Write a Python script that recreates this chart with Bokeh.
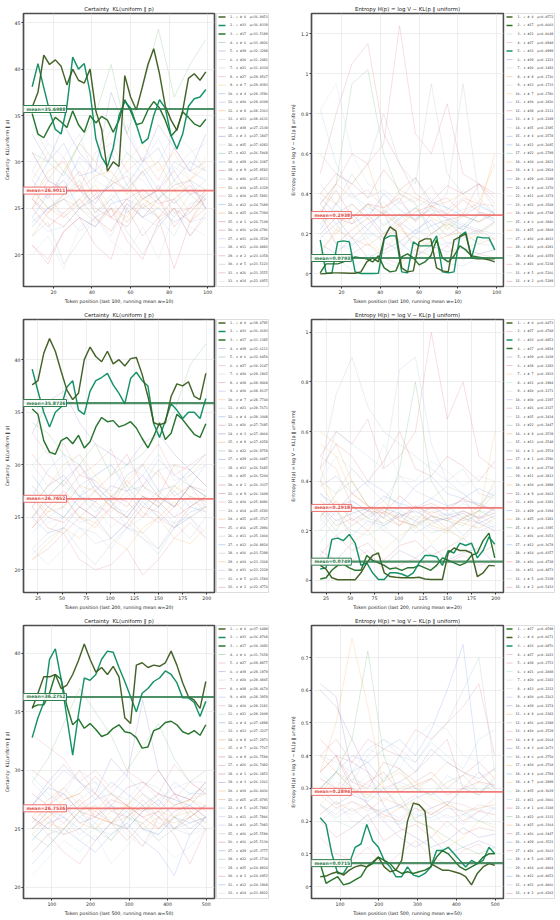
import numpy as np
from bokeh.plotting import figure
from bokeh.layouts import gridplot
from bokeh.models import Range1d, Span, Label
from bokeh.core.properties import value
from bokeh.embed import file_html
from bokeh.resources import INLINE

FONT = "DejaVu Sans"
MONO = "DejaVu Sans Mono"
CHECKED = (0, 17, 33)

HL_COLOR = {0: "#3b5b1e", 17: "#1e6e24", 33: "#0a8c5f"}
FAINT_COLOR = {6: "#76b776", 39: "#9385cc", 20: "#c3c3e6", 21: "#9fd3ca", 27: "#e690a0",
               7: "#f3c463", 4: "#769fe0", 30: "#94b0e6", 8: "#f0a055", 13: "#bfcde6",
               38: "#e07a7a", 3: "#8a82c6", 35: "#c3d6c3", 22: "#86bd86", 29: "#739cdf",
               9: "#e46f74", 36: "#b4b8c6", 34: "#f3b35a", 10: "#e69a9a", 12: "#78a0e6",
               25: "#eea35a", 1: "#de6a6a", 16: "#d67a7a", 31: "#a3c4e6", 11: "#aac8e6",
               2: "#de8290", 5: "#abb8c6", 26: "#d6828c", 14: "#c3d4e6"}

TITLE_KL = "Certainty\u00a0 KL(uniform \u2016 p)"
TITLE_H = "Entropy H(p) = log V \u2212 KL(p \u2016 uniform)"

# ---------------- Row 1: last 100 tokens, w=10 ----------------
KL100_IDS = [0, 33, 17, 6, 39, 20, 21, 27, 7, 4, 30, 8, 13, 38, 3, 35, 22, 29, 9, 36, 34, 10, 12, 25, 1, 16, 31, 11, 2, 5, 26, 14]
KL100_MU = [36.9453, 36.8339, 33.5189, 33.4826, 32.3298, 31.2481, 31.0334, 29.9567, 29.9393, 29.3596, 29.0349, 28.2363,
            28.0131, 27.2138, 27.1847, 27.0282, 26.5068, 26.2387, 25.9582, 25.8313, 25.6329, 25.5891, 24.7689, 24.7394,
            24.7149, 24.6786, 24.3529, 24.0882, 23.6358, 23.5123, 23.2555, 22.6955]
KL100_MEANS = (35.6988, 26.9011)
KL100_HL = {
    0: [35.9, 37.5, 41.5, 40.5, 41.0, 40.3, 38.3, 40.0, 38.8, 38.5, 40.0, 35.5, 33.5, 29.0, 30.0, 29.5,
        39.3, 37.0, 35.6, 38.0, 40.5, 42.2, 39.5, 36.0, 34.5, 33.4, 35.5, 39.0, 39.5, 38.8, 39.7],
    33: [38.1, 40.6, 38.0, 35.5, 33.5, 33.0, 36.0, 41.3, 40.0, 40.6, 37.5, 32.5, 30.5, 29.5, 31.5, 35.0,
         36.5, 35.8, 34.0, 32.0, 32.5, 35.0, 36.7, 35.8, 32.8, 31.4, 33.0, 36.0, 36.8, 37.0, 37.8],
    17: [35.2, 33.0, 32.6, 33.8, 34.8, 34.3, 33.7, 35.5, 34.0, 33.2, 35.0, 34.2, 34.9, 34.5, 33.2, 34.5,
         36.7, 35.5, 34.0, 34.2, 35.6, 36.5, 35.8, 34.5, 32.8, 33.5, 35.4, 34.8, 34.1, 33.8, 34.6],
}
KL100_FAINT = {
    6: [31, 30, 28.5, 32, 35, 40.5, 33, 38, 44.3, 37, 40.5, 43.2],
    39: [33, 30, 34, 31, 29, 37.5, 33, 30, 34, 31.5, 29, 33],
    20: [29, 32, 30.5, 33, 28, 31, 34, 30, 32.5, 29, 31, 32],
    21: [34, 31, 29, 32, 30, 33.5, 31, 28.5, 30, 33, 31.5, 29],
    27: [31, 28, 30.5, 27, 31, 32, 29, 30.5, 28, 31.5, 29, 30],
    7: [28, 31, 29, 32, 30, 27.5, 30, 32, 29, 31, 28, 30.5],
    4: [27, 30, 32, 28.5, 29, 31, 27.5, 30, 31.5, 28, 30, 29],
    30: [31, 28, 27, 30.5, 29, 28, 31, 29.5, 27, 30, 29, 28],
    8: [26, 29, 30, 27, 28.5, 29, 26.5, 29, 30, 27, 28, 29.5],
    13: [29, 27, 28, 30, 26.5, 27.5, 29, 28, 26, 29.5, 28, 27],
    38: [25, 28, 27, 29, 26, 27.5, 28.5, 26, 27, 29, 26.5, 27],
    3: [28, 26, 29, 27, 25.5, 28, 27, 29, 26, 27.5, 28, 25],
    35: [26, 28.5, 27, 25, 28, 27, 29, 26, 27, 25.5, 28, 27],
    22: [27, 25, 26.5, 28, 24.5, 26, 27.5, 25, 26, 28, 26.5, 25],
    29: [24, 26.5, 28, 25, 26, 27.5, 24.5, 26, 27, 25.5, 27, 26],
    9: [26, 24.5, 26.5, 27.5, 25, 24, 26, 27, 25.5, 26, 27.5, 25],
    36: [23, 25, 26, 27, 24.5, 26.5, 25, 27, 26, 24, 26.5, 28],
    34: [27, 25, 24, 26, 27.5, 25, 23.5, 26, 25, 27, 24.5, 26.5],
    10: [25, 26.5, 24, 25.5, 27, 24, 26, 25, 27.5, 24.5, 25, 26],
    12: [23.5, 25, 26, 24, 23, 25.5, 26, 24, 25, 23.5, 24.5, 26.5],
    25: [22, 24.5, 26, 25, 23.5, 25, 24, 26.5, 24, 25, 23.5, 27],
    1: [25, 23, 24.5, 26, 24, 22.5, 25.5, 24, 26, 23, 25, 27],
    16: [26, 24, 23, 25, 26.5, 24, 23, 25.5, 24, 26, 23.5, 25],
    31: [23, 25, 24.5, 22.5, 24, 26, 23.5, 25, 24, 22, 25.5, 26],
    11: [24, 22.5, 23, 25, 24, 22, 25.5, 24, 23, 25, 23.5, 24],
    2: [21, 19.5, 22.5, 24, 23, 25, 21.5, 19.5, 23.5, 25, 22, 24.5],
    5: [22, 23.5, 19, 21.5, 24, 25, 22.5, 20, 23, 25, 22, 24],
    26: [21, 19, 22.5, 24, 21, 19.5, 25, 22, 24, 18.5, 23.5, 26],
    14: [20, 22, 18.5, 23, 24, 21.5, 20, 23, 19.5, 24.5, 23, 22],
}

ENT100_IDS = [0, 17, 21, 27, 33, 39, 20, 8, 13, 7, 30, 38, 3, 35, 4, 12, 22, 34, 1, 29, 9, 11, 31, 10, 6, 25, 36, 16, 14, 26, 5, 2]
ENT100_MU = [0.0572, 0.0603, 0.0649, 0.0948, 0.0999, 0.1221, 0.1482, 0.1726, 0.1733, 0.1786, 0.1826, 0.2111,
             0.2249, 0.2385, 0.2578, 0.2685, 0.2789, 0.2821, 0.2924, 0.3249, 0.3270, 0.3274, 0.3508, 0.3748,
             0.3846, 0.3868, 0.4013, 0.4281, 0.4359, 0.5238, 0.5266, 0.5289]
ENT100_MEANS = (0.0793, 0.2938)
ENT100_HL = {
    0: [0.000, 0.002, 0.005, 0.005, 0.004, 0.003, 0.003, 0.010, 0.060, 0.080, 0.060, 0.180, 0.235, 0.215, 0.030, 0.010,
        0.015, 0.160, 0.175, 0.175, 0.030, 0.015, 0.010, 0.170, 0.185, 0.200, 0.080, 0.075, 0.075, 0.070, 0.060],
    33: [0.170, 0.005, 0.003, 0.160, 0.165, 0.160, 0.010, 0.002, 0.002, 0.002, 0.003, 0.175, 0.190, 0.190, 0.010, 0.005,
         0.160, 0.140, 0.140, 0.140, 0.190, 0.010, 0.005, 0.010, 0.190, 0.210, 0.080, 0.185, 0.180, 0.180, 0.120],
    17: [0.005, 0.050, 0.050, 0.050, 0.060, 0.075, 0.085, 0.080, 0.075, 0.060, 0.090, 0.030, 0.010, 0.015, 0.085, 0.100,
         0.080, 0.045, 0.060, 0.090, 0.170, 0.080, 0.060, 0.090, 0.140, 0.120, 0.090, 0.085, 0.080, 0.075, 0.075],
}
ENT100_FAINT = {
    21: [0.05, 0.08, 0.02, 0.10, 0.06, 0.03, 0.09, 0.12, 0.05, 0.04, 0.08, 0.06],
    27: [0.12, 0.06, 0.10, 0.15, 0.08, 0.05, 0.12, 0.09, 0.14, 0.07, 0.10, 0.08],
    39: [0.15, 0.10, 0.18, 0.08, 0.12, 0.16, 0.09, 0.14, 0.11, 0.13, 0.10, 0.12],
    20: [0.20, 0.12, 0.15, 0.18, 0.10, 0.14, 0.19, 0.12, 0.16, 0.13, 0.15, 0.14],
    8: [0.10, 0.22, 0.18, 0.14, 0.20, 0.25, 0.12, 0.16, 0.19, 0.21, 0.15, 0.18],
    13: [0.25, 0.15, 0.12, 0.20, 0.18, 0.10, 0.22, 0.17, 0.14, 0.19, 0.16, 0.20],
    7: [0.12, 0.20, 0.28, 0.15, 0.10, 0.22, 0.18, 0.14, 0.24, 0.16, 0.20, 0.26],
    30: [0.18, 0.25, 0.14, 0.22, 0.16, 0.12, 0.20, 0.24, 0.15, 0.18, 0.21, 0.14],
    38: [0.30, 0.15, 0.22, 0.28, 0.18, 0.24, 0.14, 0.20, 0.26, 0.19, 0.22, 0.17],
    3: [0.20, 0.28, 0.18, 0.25, 0.30, 0.16, 0.22, 0.27, 0.19, 0.24, 0.21, 0.26],
    35: [0.28, 0.20, 0.32, 0.18, 0.25, 0.30, 0.22, 0.19, 0.27, 0.23, 0.20, 0.25],
    4: [0.22, 0.35, 0.25, 0.30, 0.20, 0.28, 0.33, 0.24, 0.27, 0.22, 0.30, 0.26],
    12: [0.35, 0.25, 0.30, 0.22, 0.32, 0.26, 0.20, 0.30, 0.28, 0.24, 0.31, 0.27],
    22: [0.25, 0.32, 0.28, 0.35, 0.24, 0.30, 0.27, 0.33, 0.22, 0.29, 0.26, 0.32],
    34: [0.30, 0.22, 0.35, 0.27, 0.31, 0.25, 0.33, 0.28, 0.24, 0.30, 0.36, 0.55],
    1: [0.32, 0.28, 0.25, 0.35, 0.30, 0.24, 0.31, 0.34, 0.27, 0.29, 0.26, 0.30],
    29: [0.38, 0.30, 0.35, 0.28, 0.40, 0.32, 0.27, 0.36, 0.33, 0.29, 0.34, 0.30],
    9: [0.30, 0.42, 0.28, 0.35, 0.33, 0.38, 0.26, 0.34, 0.30, 0.37, 0.31, 0.29],
    11: [0.28, 0.35, 0.40, 0.30, 0.36, 0.27, 0.33, 0.38, 0.29, 0.32, 0.35, 0.30],
    31: [0.82, 0.55, 0.40, 0.33, 0.30, 0.36, 0.28, 0.32, 0.30, 0.25, 0.22, 0.20],
    10: [0.35, 0.45, 0.38, 0.42, 0.33, 0.40, 0.36, 0.44, 0.32, 0.38, 0.35, 0.34],
    6: [0.30, 0.45, 0.95, 1.02, 0.60, 0.40, 0.35, 0.20, 0.25, 0.22, 0.30, 0.28],
    25: [0.40, 0.35, 0.45, 0.55, 0.30, 0.42, 0.38, 0.34, 0.36, 0.40, 0.32, 0.60],
    36: [0.45, 0.35, 0.50, 0.38, 0.42, 0.36, 0.48, 0.33, 0.40, 0.95, 0.38, 0.30],
    16: [0.40, 0.50, 0.45, 0.38, 0.52, 0.42, 0.48, 0.36, 0.44, 0.40, 0.45, 0.38],
    14: [0.82, 0.95, 0.60, 0.45, 0.40, 0.35, 0.38, 0.30, 0.32, 0.42, 0.36, 0.30],
    26: [0.50, 0.80, 1.05, 1.15, 0.70, 0.55, 0.40, 0.35, 0.38, 0.30, 0.45, 0.35],
    5: [0.60, 0.50, 0.45, 0.55, 0.80, 0.55, 0.45, 0.95, 0.50, 0.40, 0.45, 0.32],
    2: [0.35, 0.45, 0.60, 0.55, 0.65, 1.24, 0.70, 0.60, 0.85, 0.50, 0.45, 0.40],
}

# ---------------- Row 2: last 200 tokens, w=20 ----------------
KL200_IDS = [0, 33, 17, 39, 6, 27, 20, 38, 30, 7, 21, 4, 26, 3, 8, 22, 29, 13, 35, 1, 9, 10, 14, 25, 16, 11, 12, 36, 34, 31, 5, 2]
KL200_MU = [38.0795, 36.4193, 33.1385, 32.6111, 32.0450, 30.2147, 29.1965, 28.9468, 28.9137, 28.7744, 28.7671, 28.3448,
            27.7685, 27.4060, 27.0258, 26.9758, 26.6087, 26.5685, 26.5244, 26.3337, 26.1049, 25.8486, 25.6592, 25.3767,
            25.2996, 25.1060, 24.8824, 23.5298, 23.3268, 23.2229, 23.1584, 22.4774]
KL200_MEANS = (35.8736, 26.7652)
KL200_HL = {
    0: [37.6, 38.0, 40.6, 42.0, 40.8, 38.9, 37.1, 36.2, 36.8, 40.0, 41.2, 40.3, 39.8, 40.8, 39.6, 40.0,
        39.4, 40.1, 40.2, 38.6, 36.5, 34.0, 33.8, 34.0, 36.5, 37.7, 37.5, 37.9, 36.5, 36.2, 38.7],
    33: [39.1, 37.0, 35.0, 33.6, 35.0, 35.5, 37.4, 38.0, 35.2, 34.8, 37.0, 38.0, 38.3, 38.7, 37.6, 36.8,
         35.8, 38.2, 38.8, 38.0, 37.5, 33.9, 32.6, 34.2, 35.8, 35.2, 34.4, 35.0, 35.0, 34.4, 36.3],
    17: [35.3, 34.8, 32.3, 31.2, 31.0, 32.3, 32.6, 32.0, 32.8, 31.6, 32.2, 33.6, 34.5, 34.1, 34.2, 33.6,
         33.8, 34.1, 33.5, 32.5, 31.6, 32.7, 34.0, 32.4, 33.0, 34.8, 34.3, 33.6, 32.9, 32.6, 33.9],
}
KL200_FAINT = {
    39: [33, 36, 37, 34, 32, 31, 30, 32, 33, 31, 29.5, 31],
    6: [34, 33, 31, 30, 32, 29, 30, 31, 33, 35, 39.5, 41.5],
    27: [33, 31, 32, 29, 30, 31.5, 28, 30, 32, 29, 30, 31],
    20: [30, 28, 29.5, 31, 28, 27.5, 30, 29, 31, 28.5, 29, 30],
    38: [31, 29, 28, 30, 27.5, 29, 31, 28, 27, 30, 29.5, 28],
    30: [27, 29.5, 31, 28, 29, 30, 27.5, 28, 30.5, 29, 28, 30],
    7: [26, 28, 30, 31, 29, 27, 28.5, 30, 29, 27.5, 29, 30.5],
    21: [30, 31.5, 28, 27, 29, 30, 28, 27.5, 29.5, 30, 28, 27],
    4: [29, 27, 28.5, 30, 28, 26.5, 29, 30, 27.5, 28, 29.5, 28],
    26: [28, 26.5, 27, 29, 28.5, 27, 26, 28, 29.5, 27, 28, 27.5],
    3: [26, 28, 29, 27, 26.5, 28, 27.5, 29, 27, 26, 28, 27],
    8: [27, 25.5, 26, 28, 27.5, 26, 28.5, 27, 26, 28, 27, 26.5],
    22: [25, 27, 28.5, 27, 25.5, 27, 28, 26, 27.5, 26, 28, 27],
    29: [27.5, 26, 25, 27, 28, 26.5, 25, 27, 26, 27.5, 26, 25.5],
    13: [25, 27, 26, 28, 26, 25.5, 27, 28, 26.5, 25, 27, 26.5],
    35: [28, 26, 25, 26.5, 27.5, 26, 25.5, 27, 26, 28, 26.5, 25],
    1: [24, 26, 27.5, 26, 25, 27, 26.5, 25, 27, 26, 28, 26],
    9: [27, 25, 24.5, 26, 27.5, 26, 25, 27, 26.5, 25, 26, 27],
    10: [25, 26.5, 27, 25, 24, 26, 27.5, 25.5, 24.5, 26, 27, 25.5],
    14: [26, 24.5, 25, 27, 26, 24, 25.5, 27, 25, 24.5, 26.5, 26],
    25: [24, 25.5, 27, 25, 24.5, 26, 25, 23.5, 25, 26.5, 25, 26],
    16: [26, 24, 23.5, 25, 26.5, 25, 24, 26, 25.5, 24, 26, 27],
    11: [23.5, 25, 26, 24.5, 25, 26.5, 24, 25, 26, 24.5, 25, 26],
    12: [25, 23.5, 24, 26, 25, 23, 24.5, 26.5, 25, 24, 25.5, 26],
    36: [22, 23.5, 25, 24, 22.5, 23, 24.5, 23, 22, 24, 25, 23.5],
    34: [21, 22.5, 24, 23, 24.5, 23, 22, 24, 25, 23, 22.5, 24],
    31: [22, 20.5, 22, 24, 23.5, 22, 24, 23, 21.5, 24, 25, 23],
    5: [21.5, 23, 24, 22, 20.5, 22.5, 24, 23.5, 22, 24.5, 23, 25],
    2: [21, 22, 23.5, 21, 20, 20.5, 22, 19.5, 21, 23, 24.5, 23],
}

ENT200_IDS = [0, 27, 33, 17, 39, 38, 7, 21, 20, 30, 26, 35, 22, 8, 13, 3, 1, 4, 11, 34, 9, 10, 29, 25, 6, 36, 12, 14, 16, 31, 5, 2]
ENT200_MU = [0.0473, 0.0708, 0.0852, 0.0924, 0.1038, 0.1282, 0.1932, 0.1984, 0.2171, 0.2197, 0.2327, 0.2434,
             0.2447, 0.2539, 0.2548, 0.2554, 0.2596, 0.2738, 0.2813, 0.2898, 0.3062, 0.3181, 0.3194, 0.3281,
             0.3395, 0.3653, 0.3678, 0.4357, 0.4728, 0.4873, 0.5339, 0.5433]
ENT200_MEANS = (0.0749, 0.2918)
ENT200_HL = {
    0: [0.060, 0.045, 0.010, 0.002, 0.002, 0.002, 0.002, 0.030, 0.070, 0.100, 0.110, 0.030, 0.015, 0.012, 0.010, 0.010,
        0.010, 0.012, 0.005, 0.003, 0.003, 0.003, 0.110, 0.130, 0.120, 0.120, 0.110, 0.015, 0.030, 0.060, 0.058],
    33: [0.045, 0.050, 0.165, 0.170, 0.160, 0.185, 0.150, 0.060, 0.070, 0.030, 0.003, 0.003, 0.030, 0.030, 0.025, 0.015,
         0.030, 0.070, 0.100, 0.100, 0.095, 0.060, 0.120, 0.110, 0.150, 0.140, 0.150, 0.090, 0.120, 0.175, 0.145],
    17: [0.005, 0.010, 0.040, 0.060, 0.065, 0.050, 0.040, 0.040, 0.100, 0.080, 0.070, 0.060, 0.045, 0.050, 0.040, 0.050,
         0.050, 0.060, 0.050, 0.040, 0.060, 0.090, 0.080, 0.070, 0.060, 0.070, 0.100, 0.110, 0.160, 0.190, 0.090],
}
ENT200_FAINT = {
    27: [0.10, 0.05, 0.08, 0.12, 0.04, 0.06, 0.09, 0.05, 0.07, 0.10, 0.06, 0.08],
    39: [0.12, 0.08, 0.15, 0.10, 0.06, 0.12, 0.09, 0.14, 0.08, 0.11, 0.13, 0.07],
    38: [0.10, 0.18, 0.12, 0.15, 0.08, 0.14, 0.16, 0.10, 0.13, 0.17, 0.11, 0.14],
    7: [0.45, 0.30, 0.15, 0.20, 0.12, 0.18, 0.22, 0.15, 0.20, 0.17, 0.25, 0.60],
    21: [0.15, 0.25, 0.20, 0.18, 0.22, 0.15, 0.24, 0.19, 0.21, 0.16, 0.23, 0.20],
    20: [0.25, 0.18, 0.22, 0.28, 0.20, 0.16, 0.24, 0.21, 0.19, 0.26, 0.20, 0.22],
    30: [0.20, 0.28, 0.18, 0.24, 0.22, 0.27, 0.19, 0.23, 0.25, 0.18, 0.24, 0.21],
    26: [0.30, 0.22, 0.25, 0.20, 0.28, 0.24, 0.22, 0.26, 0.21, 0.25, 0.23, 0.20],
    35: [0.22, 0.30, 0.26, 0.24, 0.20, 0.28, 0.25, 0.22, 0.27, 0.24, 0.26, 0.23],
    22: [0.28, 0.20, 0.30, 0.25, 0.23, 0.27, 0.21, 0.26, 0.24, 0.22, 0.28, 0.25],
    8: [0.40, 0.28, 0.22, 0.26, 0.30, 0.24, 0.22, 0.28, 0.25, 0.23, 0.21, 0.25],
    13: [0.24, 0.30, 0.28, 0.22, 0.26, 0.29, 0.23, 0.25, 0.27, 0.24, 0.26, 0.22],
    3: [0.30, 0.24, 0.27, 0.29, 0.22, 0.26, 0.28, 0.24, 0.25, 0.27, 0.23, 0.26],
    1: [0.26, 0.32, 0.24, 0.28, 0.27, 0.22, 0.30, 0.26, 0.24, 0.28, 0.25, 0.27],
    4: [0.35, 0.28, 0.30, 0.25, 0.29, 0.27, 0.24, 0.30, 0.26, 0.28, 0.25, 0.29],
    11: [0.30, 0.26, 0.32, 0.28, 0.25, 0.30, 0.27, 0.29, 0.26, 0.31, 0.28, 0.27],
    34: [0.55, 0.50, 0.35, 0.30, 0.25, 0.22, 0.26, 0.24, 0.20, 0.25, 0.30, 0.28],
    9: [0.32, 0.28, 0.35, 0.30, 0.27, 0.34, 0.29, 0.31, 0.28, 0.33, 0.30, 0.29],
    10: [0.50, 0.45, 0.30, 0.28, 0.32, 0.25, 0.30, 0.27, 0.29, 0.33, 0.24, 0.30],
    29: [0.35, 0.30, 0.32, 0.28, 0.34, 0.31, 0.29, 0.33, 0.30, 0.32, 0.31, 0.28],
    25: [0.60, 0.55, 0.40, 0.30, 0.28, 0.25, 0.30, 0.22, 0.20, 0.25, 0.28, 0.40],
    6: [0.25, 0.35, 0.40, 0.30, 0.25, 0.45, 0.80, 0.40, 0.30, 0.25, 0.28, 0.35],
    36: [0.40, 0.35, 0.45, 0.38, 0.32, 0.42, 0.36, 0.33, 0.38, 0.35, 0.30, 0.36],
    12: [0.38, 0.42, 0.35, 0.40, 0.36, 0.30, 0.38, 0.42, 0.35, 0.33, 0.37, 0.34],
    14: [0.40, 0.50, 0.45, 0.38, 0.55, 0.42, 0.40, 0.48, 0.44, 0.38, 0.42, 0.40],
    16: [0.45, 0.55, 0.50, 0.40, 0.48, 0.60, 0.45, 0.42, 0.50, 0.46, 0.40, 0.48],
    31: [0.40, 0.60, 0.55, 0.50, 0.45, 0.85, 0.90, 0.55, 0.40, 0.35, 0.30, 0.38],
    5: [0.45, 0.75, 0.90, 0.70, 0.60, 0.55, 0.50, 0.45, 0.40, 0.45, 0.35, 0.33],
    2: [0.50, 0.60, 0.55, 0.65, 0.45, 0.50, 0.60, 1.00, 0.65, 0.80, 0.50, 0.45],
}

# ---------------- Row 3: last 500 tokens, w=50 ----------------
KL500_IDS = [0, 33, 17, 6, 27, 39, 20, 38, 30, 10, 21, 4, 13, 8, 7, 9, 26, 1, 3, 34, 25, 5, 11, 31, 36, 16, 29, 22, 35, 2, 12, 14]
KL500_MU = [37.6488, 36.8768, 34.3092, 31.7658, 29.8877, 29.1979, 28.4845, 28.4674, 28.2959, 28.2181, 28.2049, 27.6898,
            27.3237, 27.2973, 26.7767, 26.7580, 26.7482, 26.1852, 26.1261, 26.0436, 25.8795, 25.7882, 25.7806, 25.7082,
            25.5580, 25.5130, 25.3777, 25.1730, 24.8824, 24.6952, 24.1968, 23.8822]
KL500_MEANS = (36.2752, 26.7536)
KL500_HL = {
    0: [35.3, 36.6, 38.0, 38.0, 38.2, 37.0, 37.3, 38.2, 39.4, 40.8, 39.5, 38.4, 38.8, 38.2, 38.9, 38.0,
        34.5, 34.0, 39.0, 39.2, 38.8, 39.0, 38.9, 39.2, 40.2, 39.0, 37.5, 36.3, 36.0, 35.3, 37.6],
    33: [32.8, 34.5, 35.8, 39.5, 40.4, 37.8, 34.5, 31.3, 34.8, 37.9, 37.7, 38.2, 39.5, 40.2, 40.1, 38.8,
         37.6, 36.3, 35.0, 36.6, 37.0, 37.6, 37.9, 38.5, 38.2, 37.5, 36.2, 36.2, 35.8, 34.6, 35.9],
    17: [35.4, 35.6, 35.6, 36.6, 38.2, 37.8, 35.5, 33.9, 34.4, 33.6, 34.0, 33.5, 32.9, 33.1, 33.6, 33.9,
         33.3, 33.2, 32.8, 31.9, 32.0, 33.4, 33.6, 34.1, 34.2, 33.9, 33.3, 33.1, 33.4, 33.0, 33.9],
}
KL500_FAINT = {
    6: [29, 31, 34, 37, 35, 33, 30, 32, 34, 31, 29, 30],
    27: [33, 32, 31, 29, 30, 28.5, 30, 29, 28, 30.5, 29, 28],
    39: [27, 29, 30.5, 29, 28, 31, 29.5, 36, 30, 28, 27.5, 29],
    20: [29, 27.5, 28, 30, 29, 27, 28.5, 29, 27.5, 28.5, 29, 29],
    38: [30, 29, 27.5, 28, 29.5, 28, 27, 28.5, 30, 28, 27.5, 29],
    30: [27, 28.5, 30, 29, 27.5, 28, 29.5, 28, 27, 29, 28, 28],
    10: [28, 27, 28.5, 30, 28, 27, 28.5, 29, 28, 27.5, 29, 28],
    21: [29.5, 28, 27, 28.5, 29, 28, 27.5, 29, 28.5, 27, 28, 28.5],
    4: [27, 28.5, 28, 26.5, 27.5, 29, 28, 27, 28, 27.5, 27, 28.5],
    13: [28, 27, 26, 27.5, 28.5, 27, 26.5, 28, 27, 28, 26.5, 27],
    8: [26, 27.5, 28.5, 27, 26.5, 28, 27, 26.5, 28, 27, 27.5, 28],
    7: [27, 26, 27.5, 28, 26, 25.5, 27, 28, 26.5, 26, 27.5, 27],
    9: [25.5, 27, 28, 26.5, 26, 27.5, 27, 26, 26.5, 28, 26, 27],
    26: [27, 26.5, 25.5, 27, 28, 26.5, 26, 27.5, 26, 27, 27.5, 26.5],
    1: [26, 25, 26.5, 27.5, 26, 25.5, 27, 26, 25, 26.5, 27, 26],
    3: [25, 26.5, 27, 25.5, 26, 27, 25, 26.5, 27.5, 26, 25, 26],
    34: [27, 25.5, 25, 26.5, 27, 25.5, 26, 27, 25, 26, 26.5, 25.5],
    25: [24.5, 26, 27, 25.5, 25, 26.5, 27, 25, 26, 25.5, 26, 27],
    5: [26, 25, 24.5, 26, 27, 25.5, 25, 26.5, 27, 25, 25.5, 26],
    11: [25, 26.5, 26, 24.5, 25.5, 27, 26, 25, 24.5, 26, 27, 26],
    31: [24, 25.5, 27, 26, 25, 24.5, 26, 27, 25.5, 25, 26, 27],
    36: [26, 24.5, 25, 26.5, 25.5, 24, 25.5, 27, 26, 25, 24.5, 26],
    16: [25, 26, 24.5, 25, 26.5, 25.5, 24, 25.5, 26.5, 25, 26, 25],
    29: [24, 25.5, 26, 25, 24, 25.5, 26.5, 25, 24.5, 26, 25.5, 26],
    22: [24.5, 23.5, 25, 26.5, 25, 24, 26, 25.5, 24, 25, 26.5, 25.5],
    35: [23, 24.5, 25.5, 24, 25, 26, 24.5, 23.5, 25, 26, 24.5, 25],
    2: [23, 24.5, 23, 22, 24, 25.5, 25, 23.5, 26, 24.5, 22, 25],
    12: [22, 23.5, 25, 24, 23, 24.5, 25.5, 24, 23, 21, 24.5, 26],
    14: [21, 22.5, 24, 23, 24.5, 22, 23.5, 25, 24, 22.5, 23.5, 25],
}

ENT500_IDS = [17, 0, 33, 27, 38, 21, 20, 13, 30, 39, 8, 36, 10, 9, 3, 6, 34, 4, 7, 35, 11, 1, 22, 25, 16, 29, 26, 5, 14, 12, 31, 2]
ENT500_MU = [0.0598, 0.0671, 0.0876, 0.1023, 0.1753, 0.2088, 0.2182, 0.2212, 0.2262, 0.2274, 0.2382, 0.2388,
             0.2529, 0.2664, 0.2673, 0.2750, 0.2768, 0.2794, 0.2899, 0.3019, 0.3066, 0.3108, 0.3131, 0.3364,
             0.3447, 0.3521, 0.3663, 0.3951, 0.4004, 0.4052, 0.4066, 0.4202]
ENT500_MEANS = (0.0715, 0.2894)
ENT500_HL = {
    0: [0.030, 0.032, 0.040, 0.045, 0.035, 0.050, 0.060, 0.065, 0.060, 0.075, 0.090, 0.060, 0.045, 0.050, 0.080, 0.200,
        0.255, 0.250, 0.230, 0.070, 0.060, 0.050, 0.050, 0.045, 0.040, 0.030, 0.005, 0.040, 0.060, 0.070, 0.065],
    33: [0.210, 0.190, 0.100, 0.040, 0.040, 0.070, 0.120, 0.130, 0.190, 0.140, 0.120, 0.080, 0.060, 0.030, 0.030, 0.060,
         0.035, 0.030, 0.040, 0.060, 0.110, 0.110, 0.120, 0.100, 0.080, 0.060, 0.080, 0.070, 0.080, 0.120, 0.100],
    17: [0.070, 0.010, 0.020, 0.030, 0.005, 0.010, 0.020, 0.030, 0.060, 0.070, 0.090, 0.080, 0.070, 0.050, 0.040, 0.045,
         0.040, 0.045, 0.050, 0.060, 0.090, 0.110, 0.100, 0.080, 0.060, 0.050, 0.060, 0.070, 0.090, 0.100, 0.100],
}
ENT500_FAINT = {
    27: [0.15, 0.10, 0.08, 0.12, 0.06, 0.10, 0.14, 0.09, 0.07, 0.11, 0.13, 0.08],
    38: [0.20, 0.15, 0.18, 0.22, 0.14, 0.17, 0.19, 0.15, 0.20, 0.16, 0.18, 0.17],
    21: [0.25, 0.20, 0.18, 0.22, 0.24, 0.19, 0.21, 0.23, 0.18, 0.22, 0.20, 0.19],
    20: [0.22, 0.26, 0.20, 0.19, 0.23, 0.21, 0.24, 0.20, 0.22, 0.19, 0.23, 0.24],
    13: [0.20, 0.24, 0.22, 0.25, 0.21, 0.19, 0.23, 0.24, 0.21, 0.22, 0.24, 0.20],
    30: [0.25, 0.21, 0.24, 0.20, 0.23, 0.25, 0.22, 0.21, 0.24, 0.23, 0.20, 0.24],
    39: [0.62, 0.58, 0.35, 0.25, 0.20, 0.15, 0.12, 0.15, 0.10, 0.12, 0.14, 0.12],
    8: [0.22, 0.26, 0.23, 0.25, 0.21, 0.24, 0.26, 0.22, 0.25, 0.23, 0.24, 0.25],
    36: [0.25, 0.22, 0.26, 0.24, 0.23, 0.25, 0.21, 0.24, 0.26, 0.22, 0.25, 0.24],
    10: [0.28, 0.24, 0.26, 0.23, 0.27, 0.25, 0.28, 0.24, 0.26, 0.25, 0.23, 0.27],
    9: [0.45, 0.40, 0.30, 0.25, 0.22, 0.20, 0.24, 0.22, 0.25, 0.20, 0.23, 0.22],
    3: [0.60, 0.55, 0.45, 0.35, 0.25, 0.18, 0.15, 0.12, 0.14, 0.18, 0.15, 0.16],
    6: [0.30, 0.35, 0.45, 0.72, 0.40, 0.28, 0.20, 0.18, 0.15, 0.12, 0.10, 0.12],
    34: [0.35, 0.50, 0.76, 0.55, 0.30, 0.25, 0.20, 0.18, 0.12, 0.15, 0.20, 0.18],
    4: [0.30, 0.25, 0.28, 0.26, 0.30, 0.24, 0.27, 0.29, 0.25, 0.30, 0.28, 0.33],
    7: [0.25, 0.30, 0.35, 0.28, 0.26, 0.30, 0.32, 0.27, 0.25, 0.30, 0.28, 0.34],
    35: [0.28, 0.32, 0.30, 0.34, 0.28, 0.31, 0.29, 0.33, 0.30, 0.27, 0.32, 0.29],
    11: [0.30, 0.28, 0.33, 0.31, 0.29, 0.32, 0.30, 0.28, 0.34, 0.31, 0.29, 0.32],
    1: [0.33, 0.30, 0.28, 0.32, 0.35, 0.29, 0.31, 0.33, 0.28, 0.30, 0.32, 0.31],
    22: [0.28, 0.35, 0.30, 0.27, 0.33, 0.36, 0.30, 0.28, 0.32, 0.34, 0.29, 0.31],
    25: [0.40, 0.35, 0.30, 0.28, 0.32, 0.35, 0.30, 0.33, 0.38, 0.35, 0.32, 0.36],
    16: [0.35, 0.40, 0.32, 0.30, 0.38, 0.36, 0.32, 0.35, 0.30, 0.34, 0.38, 0.33],
    29: [0.30, 0.28, 0.35, 0.38, 0.32, 0.40, 0.35, 0.42, 0.38, 0.35, 0.33, 0.36],
    26: [0.40, 0.45, 0.38, 0.35, 0.30, 0.32, 0.35, 0.40, 0.45, 0.30, 0.35, 0.30],
    5: [0.30, 0.35, 0.32, 0.40, 0.45, 0.42, 0.38, 0.45, 0.50, 0.60, 0.70, 0.35],
    14: [0.35, 0.30, 0.38, 0.42, 0.40, 0.36, 0.45, 0.50, 0.48, 0.40, 0.38, 0.42],
    12: [0.30, 0.35, 0.40, 0.38, 0.42, 0.45, 0.40, 0.48, 0.60, 0.74, 0.35, 0.30],
    31: [0.40, 0.38, 0.35, 0.42, 0.45, 0.40, 0.38, 0.44, 0.40, 0.36, 0.45, 0.48],
    2: [0.35, 0.40, 0.38, 0.45, 0.42, 0.40, 0.48, 0.45, 0.50, 0.55, 0.62, 0.40],
}

PANELS = [
    dict(kind="kl", n=100, w=10, x0=9, x1=99, xr=(4.5, 103.5), yr=(16.56, 46.0),
         xt=[20, 40, 60, 80, 100], yt=[20, 25, 30, 35, 40, 45],
         ids=KL100_IDS, mu=KL100_MU, hl=KL100_HL, faint=KL100_FAINT, means=KL100_MEANS),
    dict(kind="h", n=100, w=10, x0=9, x1=99, xr=(4.5, 103.5), yr=(-0.063, 1.301),
         xt=[20, 40, 60, 80, 100], yt=[0.0, 0.2, 0.4, 0.6, 0.8, 1.0, 1.2],
         ids=ENT100_IDS, mu=ENT100_MU, hl=ENT100_HL, faint=ENT100_FAINT, means=ENT100_MEANS),
    dict(kind="kl", n=200, w=20, x0=19, x1=199, xr=(10.0, 208.0), yr=(17.85, 43.82),
         xt=[25, 50, 75, 100, 125, 150, 175, 200], yt=[20, 25, 30, 35, 40],
         ids=KL200_IDS, mu=KL200_MU, hl=KL200_HL, faint=KL200_FAINT, means=KL200_MEANS),
    dict(kind="h", n=200, w=20, x0=19, x1=199, xr=(10.0, 208.0), yr=(-0.0495, 1.052),
         xt=[25, 50, 75, 100, 125, 150, 175, 200], yt=[0.0, 0.2, 0.4, 0.6, 0.8, 1.0],
         ids=ENT200_IDS, mu=ENT200_MU, hl=ENT200_HL, faint=ENT200_FAINT, means=ENT200_MEANS),
    dict(kind="kl", n=500, w=50, x0=49, x1=499, xr=(26.5, 521.5), yr=(19.04, 42.39),
         xt=[100, 200, 300, 400, 500], yt=[20, 25, 30, 35, 40],
         ids=KL500_IDS, mu=KL500_MU, hl=KL500_HL, faint=KL500_FAINT, means=KL500_MEANS),
    dict(kind="h", n=500, w=50, x0=49, x1=499, xr=(26.5, 521.5), yr=(-0.0366, 0.798),
         xt=[100, 200, 300, 400, 500], yt=[0.0, 0.1, 0.2, 0.3, 0.4, 0.5, 0.6, 0.7],
         ids=ENT500_IDS, mu=ENT500_MU, hl=ENT500_HL, faint=ENT500_FAINT, means=ENT500_MEANS),
]

H = 306
TOP, BOT = 13, 19
OK_COL, OK_TXT = "#2f7d4c", "#2f7d4c"
BAD_COL, BAD_TXT = "#ef6d6a", "#e0504a"


def main_fig(spec, left_col):
    w = 216 if left_col else 224
    mbl = 23 if left_col else 31
    mbr = 2 if left_col else 1
    fw = w - mbl - mbr
    title = TITLE_KL if spec["kind"] == "kl" else TITLE_H
    p = figure(width=w, height=H, x_range=Range1d(*spec["xr"]), y_range=Range1d(*spec["yr"]),
               min_border_left=mbl, min_border_right=mbr, min_border_top=TOP, min_border_bottom=BOT,
               toolbar_location=None, output_backend="svg", title=title)
    p.background_fill_color = "white"
    p.border_fill_color = "white"
    p.title.text_font = FONT
    p.title.text_font_size = "5.4px"
    p.title.text_font_style = "normal"
    p.title.text_color = "#222222"
    p.title.align = "center"
    p.title.standoff = 3
    p.outline_line_color = "#4d4d4d"
    p.outline_line_width = 1.7
    p.grid.grid_line_color = "#e6e6e6"
    p.grid.grid_line_width = 0.7
    p.xaxis.ticker = spec["xt"]
    p.yaxis.ticker = spec["yt"]
    p.xaxis.axis_label = "Token position (last %d, running mean w=%d)" % (spec["n"], spec["w"])
    p.yaxis.axis_label = title
    for ax in (p.xaxis[0], p.yaxis[0]):
        ax.axis_line_color = None
        ax.major_tick_line_color = "#333333"
        ax.major_tick_out = 2
        ax.major_tick_in = 0
        ax.minor_tick_line_color = None
        ax.major_label_text_font = FONT
        ax.major_label_text_font_size = "4.7px"
        ax.major_label_text_color = "#333333"
        ax.major_label_standoff = 1
        ax.axis_label_text_font = FONT
        ax.axis_label_text_font_size = "4.7px"
        ax.axis_label_text_font_style = "normal"
        ax.axis_label_text_color = "#222222"
        ax.axis_label_standoff = 2

    ids = spec["ids"]
    for mid in reversed(ids):
        if mid in CHECKED:
            continue
        ys = spec["faint"][mid]
        xs = np.linspace(spec["x0"], spec["x1"], len(ys))
        p.line(xs, ys, line_color=FAINT_COLOR[mid], line_alpha=0.32, line_width=0.8)
    for mid in reversed(ids):
        if mid not in CHECKED:
            continue
        ys = spec["hl"][mid]
        xs = np.linspace(spec["x0"], spec["x1"], len(ys))
        p.line(xs, ys, line_color=HL_COLOR[mid], line_alpha=0.95, line_width=1.45)

    ok_mean, bad_mean = spec["means"]
    p.add_layout(Span(location=ok_mean, dimension="width", line_color=OK_COL, line_width=2.2, line_alpha=0.85))
    p.add_layout(Span(location=bad_mean, dimension="width", line_color=BAD_COL, line_width=1.8, line_alpha=0.9))
    ppu = (spec["xr"][1] - spec["xr"][0]) / fw
    lx = spec["xr"][0] - 3.5 * ppu
    for m, sym, bc, tc in ((ok_mean, "\u2713", OK_COL, OK_TXT), (bad_mean, "\u2717", BAD_COL, BAD_TXT)):
        lab = Label(x=lx, y=m, text="%s mean=%.4f" % (sym, m), text_font=FONT, text_font_size="4.6px",
                    text_font_style="bold", text_color=tc, text_baseline="middle", text_align="left",
                    background_fill_color="white", background_fill_alpha=0.92,
                    border_line_color=bc, border_line_width=1, padding=1)
        p.add_layout(lab)
    return p


def legend_fig(spec, left_col):
    w = 64 if left_col else 56
    mbr = 12 if left_col else 6
    fw = w - mbr
    ids, mus = spec["ids"], spec["mu"]
    n = len(ids)
    lp = figure(width=w, height=H, x_range=Range1d(0, fw), y_range=Range1d(n + 0.6, 0.6),
                min_border_left=0, min_border_right=mbr, min_border_top=TOP, min_border_bottom=BOT,
                x_axis_location=None, y_axis_location=None, toolbar_location=None, output_backend="svg")
    lp.grid.visible = False
    lp.background_fill_color = "white"
    lp.border_fill_color = "white"
    lp.outline_line_color = "#d4d4d4"
    lp.outline_line_width = 0.8
    ranks = list(range(1, n + 1))
    colors, alphas, widths, labels = [], [], [], []
    for r, mid, mu in zip(ranks, ids, mus):
        ok = mid in CHECKED
        colors.append(HL_COLOR[mid] if ok else FAINT_COLOR[mid])
        alphas.append(0.95 if ok else 0.5)
        widths.append(1.5 if ok else 0.9)
        txt = "%2d. %s #%2d  \u03bc=%.4f" % (r, "\u2713" if ok else "\u2717", mid, mu)
        labels.append(txt.replace(" ", "\u00a0"))
    g0, g1, tx = (2, 9, 11.5) if left_col else (2, 8, 11)
    lp.segment(x0=g0, x1=g1, y0=ranks, y1=ranks, line_color=colors, line_alpha=alphas, line_width=widths)
    lp.text(x=tx, y=ranks, text=labels, text_font=value(MONO), text_font_size="3.3px",
            text_baseline="middle", text_align="left", text_color="#3a3a3a")
    return lp


rows = []
for i in range(3):
    lspec, rspec = PANELS[2 * i], PANELS[2 * i + 1]
    rows.append([main_fig(lspec, True), legend_fig(lspec, True),
                 main_fig(rspec, False), legend_fig(rspec, False)])

grid = gridplot(rows, toolbar_location=None)
open("out.html", "w").write(file_html(grid, INLINE))
